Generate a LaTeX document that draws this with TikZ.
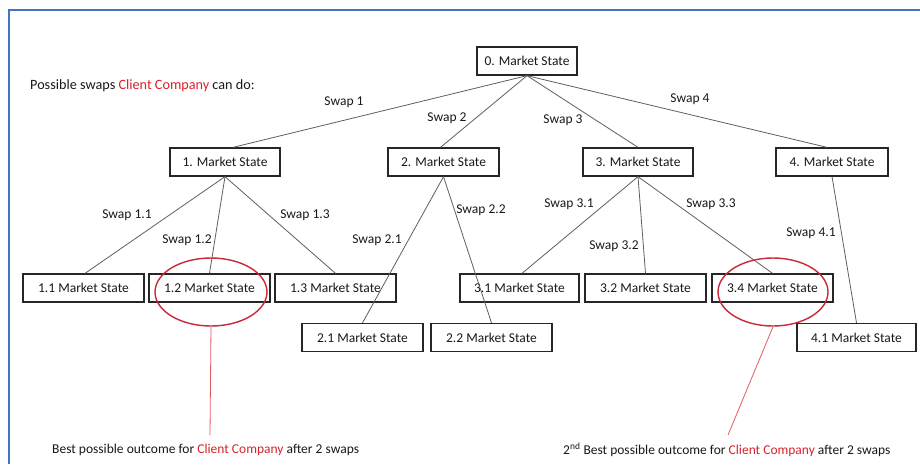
\documentclass[tikz,border=0pt]{standalone}
\usepackage{fontspec}
\setmainfont{Carlito}
\usetikzlibrary{shapes.geometric}
\definecolor{frameblue}{RGB}{68,114,196}
\definecolor{edgegray}{RGB}{95,95,95}
\definecolor{ccred}{RGB}{215,35,45}
\definecolor{ringred}{RGB}{200,40,55}
\definecolor{pointred}{RGB}{230,90,100}
\begin{document}
\begin{tikzpicture}[x=1pt,y=-1pt,
  every node/.style={font=\fontsize{13.5}{15}\selectfont, inner sep=0pt},
  statebox/.style={draw=black!85, line width=1.3pt, minimum height=28pt, text=black!90},
  edge/.style={draw=edgegray, line width=0.8pt},
  lbl/.style={text=black!90},
  ring/.style={draw=ringred, line width=1.4pt, ellipse, minimum width=112pt, minimum height=68pt},
  pointer/.style={draw=pointred, line width=0.8pt}]
\useasboundingbox (0,0) rectangle (920,464);
\fill[white] (0,0) rectangle (920,464);
\draw[frameblue, line width=2pt] (9,464) -- (9,10) -- (920,10);

% level 0
\node[statebox, minimum width=100pt] (n0) at (527,61) {0. Market State};
% level 1
\node[statebox, minimum width=110pt] (n1) at (225,162) {1. Market State};
\node[statebox, minimum width=111pt] (n2) at (443.5,162) {2. Market State};
\node[statebox, minimum width=110pt] (n3) at (638,162) {3. Market State};
\node[statebox, minimum width=112pt] (n4) at (832,162) {4. Market State};
% level 2
\node[statebox, minimum width=121pt] (n11) at (83.5,288) {1.1 Market State};
\node[statebox, minimum width=121pt] (n12) at (209.5,288) {1.2 Market State};
\node[statebox, minimum width=121pt] (n13) at (335.5,288) {1.3 Market State};
\node[statebox, minimum width=119pt] (n31) at (519.5,288) {3.1 Market State};
\node[statebox, minimum width=121pt] (n32) at (645.5,288) {3.2 Market State};
\node[statebox, minimum width=121pt] (n34) at (772.5,288) {3.4 Market State};
\node[statebox, minimum width=121pt] (n21) at (362.5,337.5) {2.1 Market State};
\node[statebox, minimum width=121pt] (n22) at (491.5,337.5) {2.2 Market State};
\node[statebox, minimum width=119pt] (n41) at (856.5,337.5) {4.1 Market State};

% edges
\draw[edge] (n0.south) -- ([xshift=8pt]n1.north);
\draw[edge] (n0.south) -- ([xshift=-3pt]n2.north);
\draw[edge] (n0.south) -- (n3.north);
\draw[edge] (n0.south) -- ([xshift=-5pt]n4.north);
\draw[edge] (n1.south) -- ([xshift=1.5pt]n11.north);
\draw[edge] (n1.south) -- (n12.north);
\draw[edge] (n1.south) -- (n13.north);
\draw[edge] (n2.south) -- (n21.north);
\draw[edge] (n2.south) -- (n22.north);
\draw[edge] (n3.south) -- ([xshift=2.5pt]n31.north);
\draw[edge] (n3.south) -- (n32.north);
\draw[edge] (n3.south) -- (n34.north);
\draw[edge] (n4.south) -- (n41.north);

% edge labels
\node[lbl] (s1) at (344,102) {Swap 1};
\node[lbl] (s2) at (447,118) {Swap 2};
\node[lbl] (s3) at (563,120) {Swap 3};
\node[lbl] (s4) at (690,99) {Swap 4};
\node[lbl] (s11) at (127,215) {Swap 1.1};
\node[lbl] (s12) at (187,240) {Swap 1.2};
\node[lbl] (s13) at (305,215) {Swap 1.3};
\node[lbl] (s21) at (377,240) {Swap 2.1};
\node[lbl] (s22) at (481,210) {Swap 2.2};
\node[lbl] (s31) at (569,204) {Swap 3.1};
\node[lbl] (s32) at (614,246) {Swap 3.2};
\node[lbl] (s33) at (711,204) {Swap 3.3};
\node[lbl] (s41) at (811,233) {Swap 4.1};

% title
\node[lbl, anchor=west, font=\fontsize{14.2}{16}\selectfont] (title) at (30,86) {Possible swaps \textcolor{ccred}{Client Company} can do:};

% highlights
\node[ring] (e1) at (211,292) {};
\node[ring, minimum width=110pt] (e2) at (773,292) {};
\coordinate (p1) at (210,435);
\coordinate (p2) at (728,435);
\draw[pointer] (e1.south) -- (p1);
\draw[pointer] (e2.south) -- (p2);

\node[lbl, anchor=west] (best) at (52,450) {Best possible outcome for \textcolor{ccred}{Client Company} after 2 swaps};
\node[lbl, anchor=west] (second) at (563,450) {2\textsuperscript{nd} Best possible outcome for \textcolor{ccred}{Client Company} after 2 swaps};
\end{tikzpicture}
\end{document}
